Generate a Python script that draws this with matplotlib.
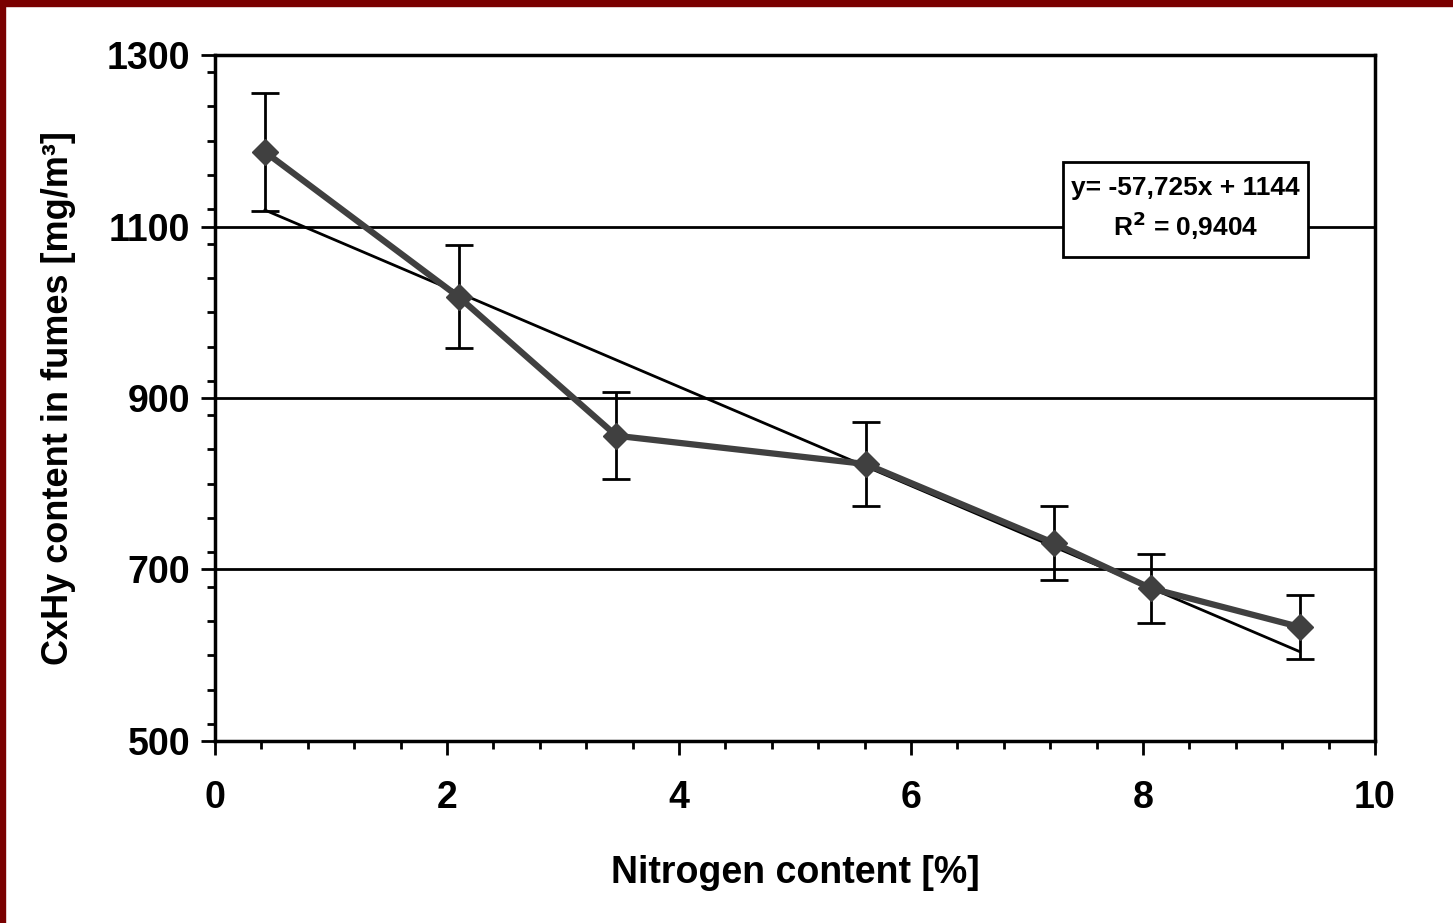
import matplotlib
matplotlib.use('Agg')
import matplotlib.pyplot as plt
from matplotlib.patches import Rectangle
from matplotlib.ticker import MultipleLocator

# data
nitrogen = [0.43, 2.10, 3.46, 5.61, 7.23, 8.07, 9.35]
cxhy = [1187, 1018, 856, 823, 731, 678, 633]
cxhy_err = [69, 60, 51, 49, 43, 40, 37]
trend_coef = [-57.725, 1144]
eq_text = 'y= -57,725x + 1144\nR$^2$ = 0,9404'
x_ticks = [0, 2, 4, 6, 8, 10]
y_ticks = [500, 700, 900, 1100, 1300]

plt.rcParams['font.family'] = ['Liberation Sans', 'DejaVu Sans']
plt.rcParams['font.weight'] = 'bold'
plt.rcParams['mathtext.default'] = 'bf'

fig = plt.figure(figsize=(14.53, 9.23), dpi=100)
ax = fig.add_axes([0.148, 0.1972, 0.7983, 0.7432])

# red frame along top and left edge
fig.patches.append(Rectangle((0, 1 - 6 / 923), 1, 6 / 923, transform=fig.transFigure,
                             color='#7a0000', zorder=10))
fig.patches.append(Rectangle((0, 0), 5 / 1453, 1, transform=fig.transFigure,
                             color='#7a0000', zorder=10))

for yy in y_ticks[1:-1]:
    ax.axhline(yy, color='black', linewidth=2, zorder=1)

x0, x1 = nitrogen[0], nitrogen[-1]
ax.plot([x0, x1], [trend_coef[0] * x0 + trend_coef[1], trend_coef[0] * x1 + trend_coef[1]],
        color='black', linewidth=2, zorder=2)

ax.errorbar(nitrogen, cxhy, yerr=cxhy_err, fmt='none', ecolor='black', elinewidth=2,
            capsize=10, capthick=2, zorder=3)
ax.plot(nitrogen, cxhy, color='#404040', linewidth=4.5, marker='D', markersize=13,
        markerfacecolor='#404040', markeredgecolor='#404040', zorder=4)

ax.set_xlim(0, 10)
ax.set_ylim(500, 1300)
ax.set_xticks(x_ticks)
ax.set_yticks(y_ticks)
ax.xaxis.set_minor_locator(MultipleLocator(0.4))
ax.yaxis.set_minor_locator(MultipleLocator(40))

ax.tick_params(axis='both', which='major', direction='out', length=10, width=2, labelsize=27)
ax.tick_params(axis='both', which='minor', direction='out', length=6, width=2)
ax.tick_params(axis='x', which='major', pad=18)
ax.tick_params(axis='y', which='major', pad=8)

for side in ['left', 'bottom', 'top', 'right']:
    ax.spines[side].set_linewidth(2.5)

ax.set_xlabel('Nitrogen content [%]', fontsize=27, fontweight='bold', labelpad=28)
ax.set_ylabel('CxHy content in fumes [mg/m³]', fontsize=26, fontweight='bold', labelpad=22)

# equation box
ax.add_patch(Rectangle((0.731, 0.7055), 0.2112, 0.1385, transform=ax.transAxes,
                       facecolor='white', edgecolor='black', linewidth=2, zorder=6))
ax.text(0.8366, 0.775, eq_text, transform=ax.transAxes, ha='center', va='center', fontsize=19,
        fontweight='bold', linespacing=1.35, zorder=7)

fig.savefig('out.png', dpi=100)
